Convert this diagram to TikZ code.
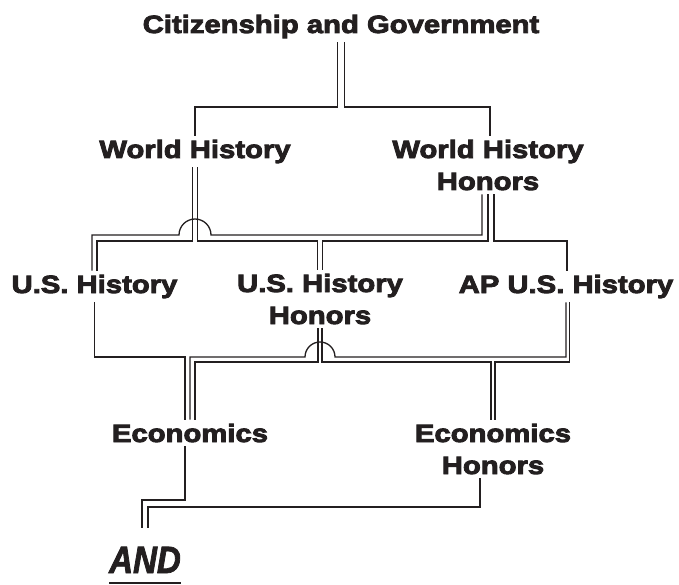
\documentclass[tikz,border=0pt]{standalone}
\usepackage{fontspec}
\usepackage{tikz}
\newfontfamily\coursefont{Liberation Sans}[FakeStretch=1.17,FakeBold=3.5]
\newfontfamily\andfont{Liberation Sans}[FakeStretch=0.87,FakeBold=2]
\definecolor{ink}{HTML}{231F20}
\newcommand\thickul[1]{\setbox0\hbox{#1}\rlap{\vrule height -8.7pt depth 11.3pt width \wd0}\box0}

\begin{document}
\begin{tikzpicture}[x=1pt,y=-1pt]
\tikzstyle{course}=[inner sep=4pt,anchor=base,align=center,text=ink,font=\coursefont\bfseries\fontsize{25}{32}\selectfont]
\tikzstyle{link}=[draw=ink,line width=1.3pt]
\useasboundingbox (0,0) rectangle (679,585);
% two-line names sit on the baseline of their last line
\node[course] (cg) at (341,33) {Citizenship and Government};
\node[course] (wh) at (195,158) {World History};
\node[course] (whh) at (488,190) {World History\\Honors};
\node[course] (ush) at (94.5,293) {U.S. History};
\node[course] (ushh) at (320,324) {U.S. History\\Honors};
\node[course] (apush) at (566,293) {AP U.S. History};
\node[course] (econ) at (190,442) {Economics};
\node[course] (econh) at (493,474) {Economics\\Honors};
\node[course,font=\andfont\bfseries\itshape\fontsize{38}{38}\selectfont] (req) at (145,573) {\thickul{AND}};
\coordinate (b1) at (0,107);
\coordinate (b2a) at (0,235);
\coordinate (b2) at (0,241);
\coordinate (b3a) at (0,357);
\coordinate (b3) at (0,362);
\coordinate (b4a) at (0,500);
\coordinate (b4) at (0,507);
% first year
\draw[link] ([xshift=-3.5]cg.south) -- ([xshift=-3.5]cg.south |- b1) -| (wh.north);
\draw[link] ([xshift=3.5]cg.south) -- ([xshift=3.5]cg.south |- b1) -| ([xshift=2]whh.north);
% second year
\draw[link] ([xshift=-2.5]wh.south) -- ([xshift=-2.5]wh.south |- b2) -| ([xshift=2.5]ush.north);
\draw[link] ([xshift=2.5]wh.south) -- ([xshift=2.5]wh.south |- b2) -| ([xshift=-2.5]ushh.north);
\draw[link] ([xshift=-6]whh.south) -- ([xshift=-6]whh.south |- b2a) -- ([xshift=16]wh.south |- b2a)
  arc[start angle=0,end angle=180,radius=16pt] -| ([xshift=-2.5]ush.north);
\draw[link] (whh.south) -- (whh.south |- b2) -| ([xshift=2.5]ushh.north);
\draw[link] ([xshift=6]whh.south) -- ([xshift=6]whh.south |- b2) -| ([xshift=1]apush.north);
% third year
\draw[link] (ush.south) -- (ush.south |- b3a) -| ([xshift=-5]econ.north);
\draw[link] (apush.south) -- (apush.south |- b3a) -- ([xshift=15]ushh.south |- b3a)
  arc[start angle=0,end angle=180,radius=15pt] -| (econ.north);
\draw[link] ([xshift=-2]ushh.south) -- ([xshift=-2]ushh.south |- b3) -| ([xshift=5]econ.north);
\draw[link] ([xshift=2]ushh.south) -- ([xshift=2]ushh.south |- b3) -| ([xshift=-2]econh.north);
\draw[link] ([xshift=3.5]apush.south) -- ([xshift=3.5]apush.south |- b3) -| ([xshift=2]econh.north);
% fourth year
\draw[link] ([xshift=-5]econ.south) -- ([xshift=-5]econ.south |- b4a) -| ([xshift=-3,yshift=15]req.north);
\draw[link] ([xshift=-13]econh.south) -- ([xshift=-13]econh.south |- b4) -| ([xshift=3,yshift=15]req.north);
\end{tikzpicture}
\end{document}
